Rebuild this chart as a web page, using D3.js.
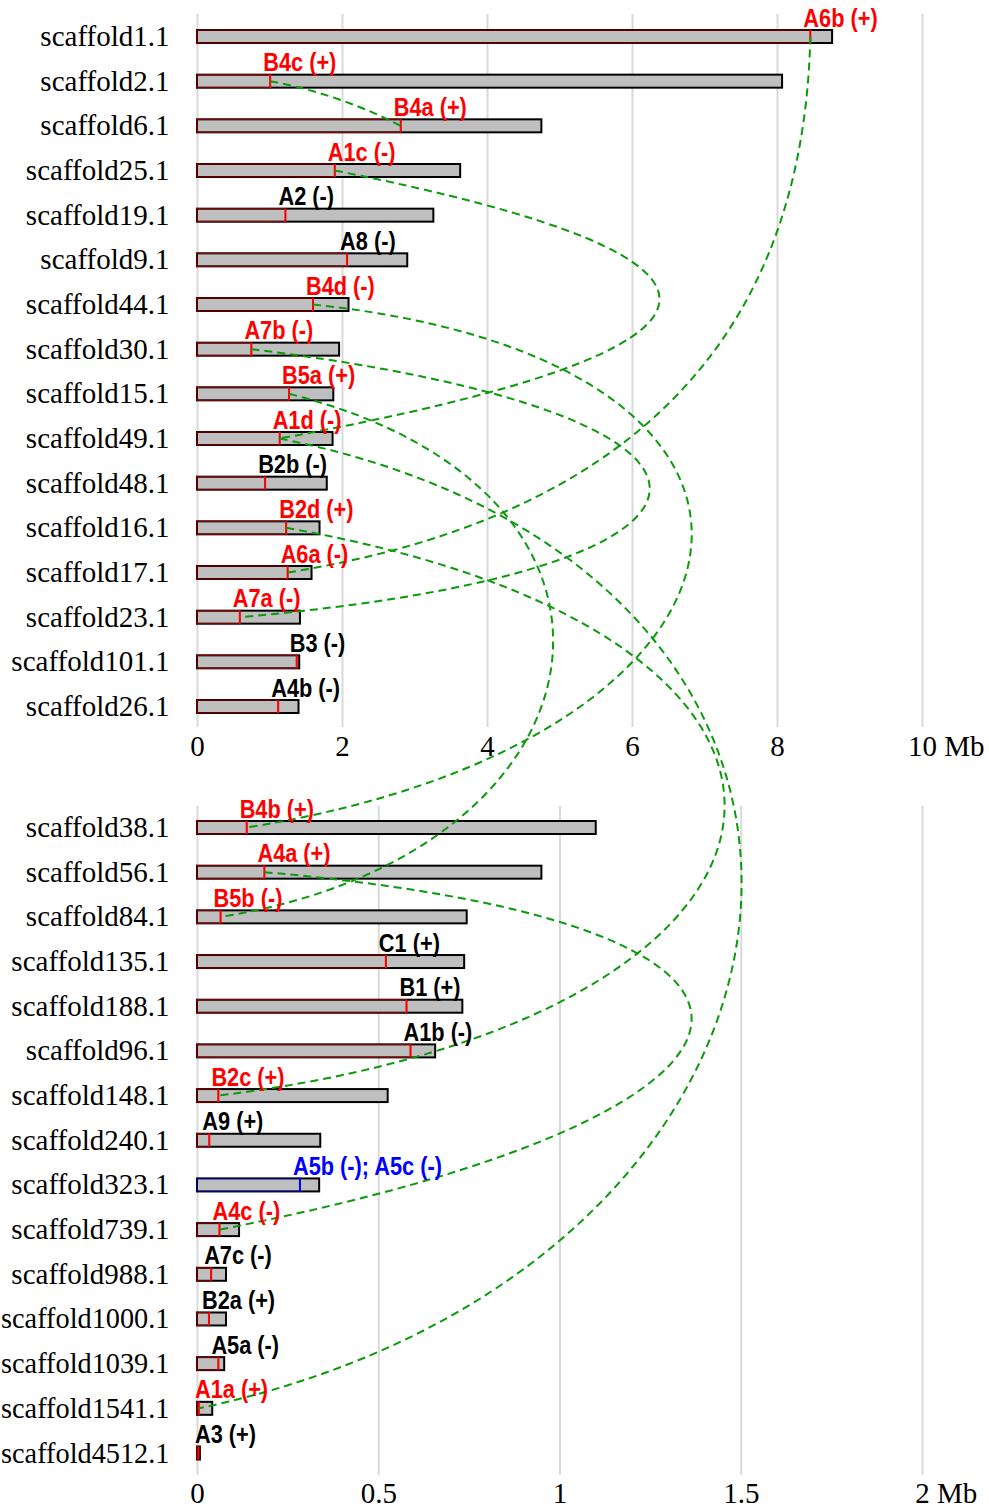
<!DOCTYPE html>
<html>
<head>
<meta charset="utf-8">
<script src="https://cdn.jsdelivr.net/npm/d3@7"></script>
<style>
  body { margin: 0; background: #fff; }
</style>
</head>
<body>
<svg id="chart" width="989" height="1508"></svg>
<script>
// ---- Upper panel: large scaffolds (lengths and locus positions in Mb) ----
const topScaffolds = ["scaffold1.1", "scaffold2.1", "scaffold6.1", "scaffold25.1", "scaffold19.1",
  "scaffold9.1", "scaffold44.1", "scaffold30.1", "scaffold15.1", "scaffold49.1", "scaffold48.1",
  "scaffold16.1", "scaffold17.1", "scaffold23.1", "scaffold101.1", "scaffold26.1"];
const topLengths = [8.76, 8.07, 4.75, 3.63, 3.26, 2.90, 2.09, 1.96, 1.88, 1.87, 1.79, 1.69, 1.58, 1.42, 1.41, 1.40];
const topMarkers = [8.46, 1.01, 2.81, 1.90, 1.22, 2.07, 1.60, 0.75, 1.27, 1.14, 0.94, 1.23, 1.25, 0.59, 1.375, 1.12];
const topLabels = ["A6b (+)", "B4c (+)", "B4a (+)", "A1c (-)", "A2 (-)", "A8 (-)", "B4d (-)", "A7b (-)",
  "B5a (+)", "A1d (-)", "B2b (-)", "B2d (+)", "A6a (-)", "A7a (-)", "B3 (-)", "A4b (-)"];
const topTicks = [0, 2, 4, 6, 8, 10];

// ---- Lower panel: small scaffolds ----
const bottomScaffolds = ["scaffold38.1", "scaffold56.1", "scaffold84.1", "scaffold135.1", "scaffold188.1",
  "scaffold96.1", "scaffold148.1", "scaffold240.1", "scaffold323.1", "scaffold739.1", "scaffold988.1",
  "scaffold1000.1", "scaffold1039.1", "scaffold1541.1", "scaffold4512.1"];
const bottomLengths = [1.100, 0.950, 0.744, 0.737, 0.732, 0.657, 0.526, 0.340, 0.337, 0.116, 0.080, 0.080, 0.075, 0.042, 0.008];
const bottomMarkers = [0.137, 0.186, 0.065, 0.521, 0.578, 0.589, 0.059, 0.034, 0.284, 0.062, 0.039, 0.033, 0.059, 0.005, 0.004];
const bottomLabels = ["B4b (+)", "A4a (+)", "B5b (-)", "C1 (+)", "B1 (+)", "A1b (-)", "B2c (+)", "A9 (+)",
  "A5b (-); A5c (-)", "A4c (-)", "A7c (-)", "B2a (+)", "A5a (-)", "A1a (+)", "A3 (+)"];
const bottomTicks = [0, 0.5, 1, 1.5, 2];
const unit = "Mb";

// ---- Links between paralogous loci ----
const linkPairs = [
  ["scaffold1.1", "scaffold17.1"],
  ["scaffold2.1", "scaffold6.1"],
  ["scaffold25.1", "scaffold49.1"],
  ["scaffold49.1", "scaffold1541.1"],
  ["scaffold44.1", "scaffold38.1"],
  ["scaffold30.1", "scaffold23.1"],
  ["scaffold15.1", "scaffold84.1"],
  ["scaffold16.1", "scaffold148.1"],
  ["scaffold56.1", "scaffold739.1"]
];
// departure angle (degrees, screen orientation) at each end of a link
const linkAngles = [[91.3, -9.1], [10.6, -152.7], [11.2, -10.4], [11.3, -11.9], [6, -9], [7, -5], [14, -9], [10, -7], [5, -11]];
// control-handle length at each end, as a fraction of the chord length
const linkReach = [[0.405, 0.462], [0.336, 0.336], [1.68, 1.81], [0.70, 0.70], [1.047, 1.047], [2.02, 2.02], [0.765, 0.765], [1.111, 1.111], [1.68, 1.68]];

// ---- Layout ----
const svg = d3.select("#chart");
svg.append("rect").attr("width", 989).attr("height", 1508).attr("fill", "#fff");

const panels = [
  {
    scaffolds: topScaffolds, lengths: topLengths, markers: topMarkers, labels: topLabels, ticks: topTicks,
    x: d3.scaleLinear().domain([0, 10]).range([197, 922]),
    y: d3.scalePoint().domain(topScaffolds).range([36.5, 706.5]),
    gridTop: 14, gridBottom: 727, tickPad: 8
  },
  {
    scaffolds: bottomScaffolds, lengths: bottomLengths, markers: bottomMarkers, labels: bottomLabels, ticks: bottomTicks,
    x: d3.scaleLinear().domain([0, 2]).range([197, 922]),
    y: d3.scalePoint().domain(bottomScaffolds).range([827.5, 1453]),
    gridTop: 806, gridBottom: 1475, tickPad: 7
  }
];

const barH = 13;
const nameRight = 169.5;
const serif = "'Liberation Serif', 'Times New Roman', serif";
const linkColor = "#0b9a0b";
const linked = new Set(linkPairs.flat());
const pos = new Map();

const gridLayer = svg.append("g");
const barLayer = svg.append("g");
const linkLayer = svg.append("g");
const labelLayer = svg.append("g");

panels.forEach(p => {
  // grid lines and tick labels
  const axis = d3.axisBottom(p.x)
    .tickValues(p.ticks)
    .tickSize(-(p.gridBottom - p.gridTop))
    .tickSizeOuter(0)
    .tickPadding(p.tickPad)
    .tickFormat(d => String(d));
  const ag = gridLayer.append("g")
    .attr("transform", `translate(0,${p.gridBottom})`)
    .call(axis);
  ag.select(".domain").remove();
  ag.selectAll(".tick line").attr("stroke", "#d9d9d9").attr("stroke-width", 2);
  ag.selectAll(".tick text")
    .attr("font-family", serif)
    .attr("font-size", 29)
    .attr("fill", "#000");
  // unit appended to the last tick, number stays centred on its grid line
  const last = ag.selectAll(".tick text").filter((d, i, n) => i === n.length - 1);
  const w = last.node().getComputedTextLength();
  last.attr("text-anchor", "start").attr("x", -w / 2);
  last.append("tspan").text(" " + unit);

  const rows = p.scaffolds.map((s, i) => ({
    name: s, len: p.lengths[i], mk: p.markers[i], label: p.labels[i]
  }));

  rows.forEach(r => {
    const shared = r.label.includes(";");
    r.markColor = shared ? "#0000ff" : "#ff0000";
    r.segColor = shared ? "#00008b" : "#8b0000";
    r.textColor = shared ? "#0000ff" : (linked.has(r.name) ? "#ff0000" : "#000");
    pos.set(r.name, { x: p.x(r.mk), y: p.y(r.name) });
  });

  // scaffold names, squeezed slightly when they would run past the left edge
  barLayer.selectAll(null).data(rows).join("text")
    .attr("x", nameRight)
    .attr("y", d => p.y(d.name) + 9.5)
    .attr("text-anchor", "end")
    .attr("font-family", serif)
    .attr("font-size", 29)
    .attr("fill", "#000")
    .text(d => d.name)
    .each(function () {
      const len = this.getComputedTextLength();
      const room = nameRight - 1;
      if (len > room) {
        d3.select(this).attr("textLength", room).attr("lengthAdjust", "spacingAndGlyphs");
      }
    });

  // scaffold bars
  barLayer.selectAll(null).data(rows).join("rect")
    .attr("x", p.x(0))
    .attr("y", d => p.y(d.name) - barH / 2)
    .attr("width", d => p.x(d.len) - p.x(0))
    .attr("height", barH)
    .attr("fill", "#bfbfbf")
    .attr("stroke", "#000")
    .attr("stroke-width", 2);

  // segment from scaffold start to the locus
  barLayer.selectAll(null).data(rows).join("rect")
    .attr("x", p.x(0))
    .attr("y", d => p.y(d.name) - barH / 2)
    .attr("width", d => p.x(d.mk) - p.x(0))
    .attr("height", barH)
    .attr("fill", "none")
    .attr("stroke", d => d.segColor)
    .attr("stroke-width", 1.2);

  // locus marker
  barLayer.selectAll(null).data(rows).join("line")
    .attr("x1", d => p.x(d.mk)).attr("x2", d => p.x(d.mk))
    .attr("y1", d => p.y(d.name) - barH / 2)
    .attr("y2", d => p.y(d.name) + barH / 2)
    .attr("stroke", d => d.markColor)
    .attr("stroke-width", 2);

  // locus labels
  labelLayer.selectAll(null).data(rows).join("text")
    .attr("transform", d => `translate(${Math.max(p.x(d.mk) - 7, 195)},${p.y(d.name) - 10}) scale(0.87,1)`)
    .attr("font-family", "'Liberation Sans', Arial, sans-serif")
    .attr("font-weight", "bold")
    .attr("font-size", 25)
    .attr("fill", d => d.textColor)
    .text(d => d.label);
});

// dashed links drawn as cubic curves leaving each locus at its own angle
const rad = Math.PI / 180;
const links = linkPairs.map((pair, i) => ({
  a: pos.get(pair[0]), b: pos.get(pair[1]),
  angA: linkAngles[i][0], angB: linkAngles[i][1],
  reachA: linkReach[i][0], reachB: linkReach[i][1]
}));

linkLayer.selectAll("path").data(links).join("path")
  .attr("d", d => {
    const L = Math.hypot(d.b.x - d.a.x, d.b.y - d.a.y);
    const path = d3.path();
    path.moveTo(d.a.x, d.a.y);
    path.bezierCurveTo(
      d.a.x + d.reachA * L * Math.cos(d.angA * rad), d.a.y + d.reachA * L * Math.sin(d.angA * rad),
      d.b.x + d.reachB * L * Math.cos(d.angB * rad), d.b.y + d.reachB * L * Math.sin(d.angB * rad),
      d.b.x, d.b.y);
    return path.toString();
  })
  .attr("fill", "none")
  .attr("stroke", linkColor)
  .attr("stroke-width", 2)
  .attr("stroke-dasharray", "8,5");
</script>
</body>
</html>
